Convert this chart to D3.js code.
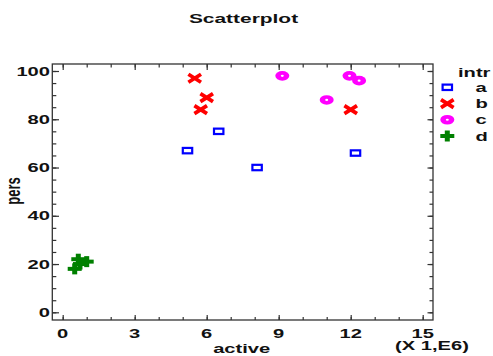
<!DOCTYPE html>
<html><head><meta charset="utf-8">
<script src="https://cdn.jsdelivr.net/npm/d3@7"></script>
<style>
body{margin:0;background:#fff}
text{font-family:"Liberation Sans",Arial,sans-serif;font-weight:bold;fill:#111}
</style>
</head><body>
<svg id="c" width="493" height="356"></svg>
<script>
// ---- data ----
const groups = ["a", "b", "c", "d"];
const aX = [5.2, 6.5, 8.1, 12.2];
const aY = [67, 75, 60, 66];
const bX = [5.5, 6.0, 5.75, 12.0];
const bY = [97, 89, 84, 84];
const cX = [9.15, 11.0, 11.95, 12.35];
const cY = [98, 88, 98, 96];
const dX = [0.65, 1.0, 0.5, 0.72];
const dY = [22, 21, 18, 20];
const xMajor = [0, 3, 6, 9, 12, 15];
const yMajor = [0, 20, 40, 60, 80, 100];
const titleText = "Scatterplot", xTitle = "active", yTitle = "pers", xUnit = "(X 1,E6)", legendTitle = "intr";

const series = [
  {key: "a", xs: aX, ys: aY},
  {key: "b", xs: bX, ys: bY},
  {key: "c", xs: cX, ys: cY},
  {key: "d", xs: dX, ys: dY}
];

const S = 1.55; // horizontal stretch of the original rendering
const svg = d3.select("#c");
const L = 52.3, R = 433, T = 64, B = 320;
const x = d3.scaleLinear().domain([0, 15]).range([62.7, 422.7]);
const y = d3.scaleLinear().domain([0, 100]).range([312.3, 71]);

// frame
svg.append("rect").attr("x", L).attr("y", T).attr("width", R - L).attr("height", B - T)
  .attr("fill", "none").attr("stroke", "#333").attr("stroke-width", 1.3);

const xMinor = d3.range(0, 16, 1);
const yMinor = d3.range(0, 101, 5);

function ticks(axisGen, scale, vals, size, tx, ty) {
  const g = svg.append("g").attr("transform", `translate(${tx},${ty})`)
    .call(axisGen(scale).tickValues(vals).tickSize(size).tickFormat(""));
  g.select(".domain").remove();
  g.selectAll("line").attr("stroke", "#333").attr("stroke-width", 1.2);
  return g;
}
// bottom (inward = up)
ticks(d3.axisBottom, x, xMinor, -3, 0, B);
ticks(d3.axisBottom, x, xMajor, -5, 0, B);
// top (inward = down)
ticks(d3.axisTop, x, xMinor, -3.5, 0, T);
ticks(d3.axisTop, x, xMajor, -6, 0, T);
// left (inward = right)
ticks(d3.axisLeft, y, yMinor, -4, L, 0);
ticks(d3.axisLeft, y, yMajor, -6.7, L, 0);
// right (inward = left)
ticks(d3.axisRight, y, yMinor, -3.5, R, 0);
ticks(d3.axisRight, y, yMajor, -5.5, R, 0);

// tick labels
svg.append("g").selectAll("text").data(xMajor).join("text")
  .attr("transform", d => `translate(${x(d)},337.5) scale(${S},1)`)
  .attr("text-anchor", "middle").attr("font-size", 13).text(d => d);
svg.append("g").selectAll("text").data(yMajor).join("text")
  .attr("transform", d => `translate(50,${y(d) + 4.7}) scale(${S},1)`)
  .attr("text-anchor", "end").attr("font-size", 13).text(d => d);

// titles
svg.append("text").attr("transform", `translate(243.5,23) scale(${S},1)`)
  .attr("text-anchor", "middle").attr("font-size", 13.5).text(titleText);
svg.append("text").attr("transform", `translate(241.7,353.3) scale(${S},1)`)
  .attr("text-anchor", "middle").attr("font-size", 13).text(xTitle);
svg.append("text").attr("transform", `translate(395,350) scale(${S},1)`)
  .attr("text-anchor", "start").attr("font-size", 13).text(xUnit);
svg.append("text").attr("transform", `translate(19.5,191) scale(${S},1) rotate(-90)`)
  .attr("text-anchor", "middle").attr("font-size", 13).text(yTitle);

// markers
function marker(g, key) {
  if (key === "a") {
    g.append("rect").attr("x", -4.7).attr("y", -2.7).attr("width", 9.4).attr("height", 5.4)
      .attr("fill", "#fff").attr("stroke", "#0000ff").attr("stroke-width", 2.2);
  } else if (key === "b") {
    g.append("path").attr("d", "M-6.3,-4L6.3,4M-6.3,4L6.3,-4")
      .attr("stroke", "#ff0000").attr("stroke-width", 3.8).attr("fill", "none");
  } else if (key === "c") {
    g.append("ellipse").attr("rx", 7).attr("ry", 4.8).attr("fill", "#ff00ff");
    g.append("ellipse").attr("rx", 1.5).attr("ry", 1.1).attr("fill", "#fff");
  } else {
    g.append("rect").attr("x", -7).attr("y", -2).attr("width", 14).attr("height", 4).attr("fill", "#008000");
    g.append("rect").attr("x", -2.5).attr("y", -5.5).attr("width", 5).attr("height", 11).attr("fill", "#008000");
  }
}

series.forEach(s => {
  s.xs.forEach((xv, i) => {
    const g = svg.append("g").attr("transform", `translate(${x(xv)},${y(s.ys[i])})`);
    marker(g, s.key);
  });
});

// legend
svg.append("text").attr("transform", `translate(458,76.5) scale(${S},1)`)
  .attr("font-size", 13).text(legendTitle);
const rowY = d3.scalePoint().domain(groups).range([87.3, 136]);
groups.forEach(k => {
  const g = svg.append("g").attr("transform", `translate(447.3,${rowY(k)})`);
  marker(g, k);
  svg.append("text").attr("transform", `translate(475.5,${rowY(k) + 4.6}) scale(${S},1)`)
    .attr("font-size", 13).text(k);
});
</script>
</body></html>
